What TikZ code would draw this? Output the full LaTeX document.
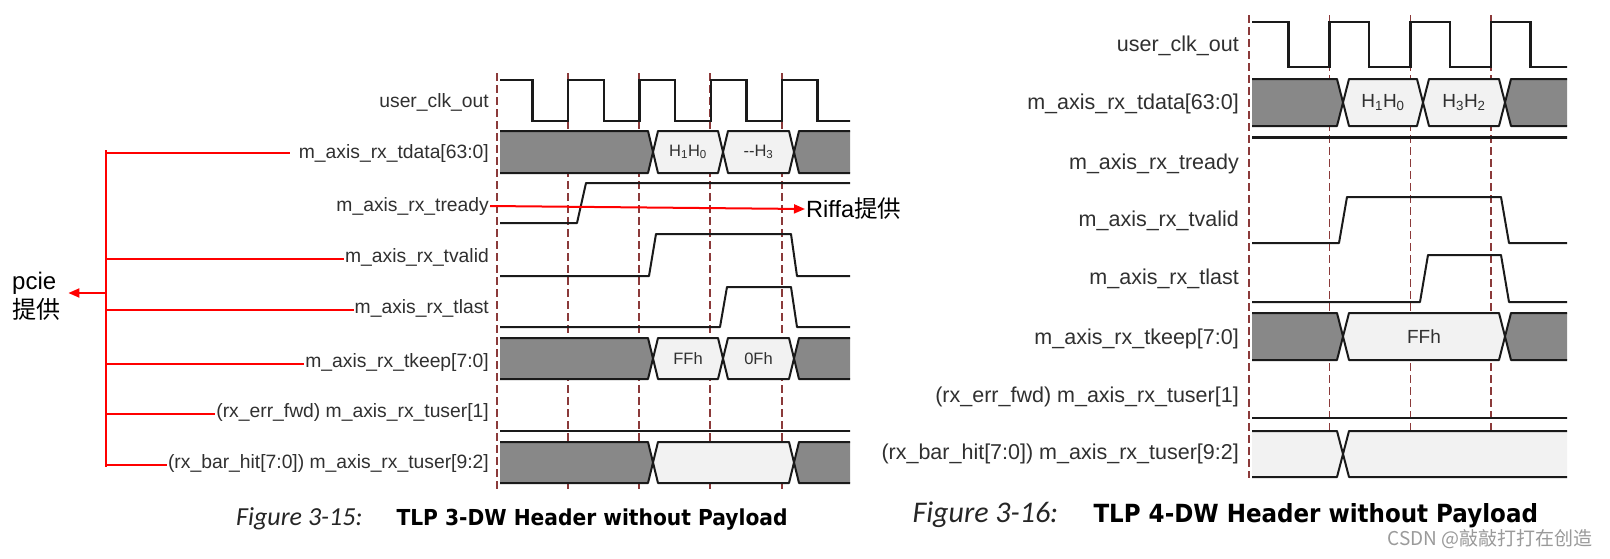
\documentclass[tikz,border=0pt]{standalone}
\usepackage{fontspec}
\setmainfont{Liberation Sans}
\newfontfamily\cjk{Noto Sans CJK SC}
\newfontfamily\capit{Carlito}
\newfontfamily\capbf{DejaVu Sans}[FakeStretch=0.92]
\usetikzlibrary{arrows.meta}
\definecolor{gridred}{HTML}{8B3A3A}
\definecolor{busgray}{HTML}{888888}
\definecolor{buslight}{HTML}{F2F2F2}
\definecolor{lblc}{HTML}{303030}
\definecolor{wmc}{HTML}{9A9A9A}
\definecolor{wavec}{HTML}{1A1A1A}
\tikzset{
  wave/.style={line width=2pt, draw=wavec, line join=round},
  clkwave/.style={line width=2.4pt, draw=wavec, line join=miter},
  gridline/.style={draw=gridred, line width=1.4pt, dash pattern=on 8pt off 4pt},
  redline/.style={draw=red, line width=2pt},
  redarrow/.style={draw=red, line width=2pt, -{Triangle[length=11pt,width=9pt]}},
}
% fill, xL, xR, top, bot, wL, wR, name, text
\newcommand\bseg[9]{%
  \pgfmathsetmacro\ymid{(#4+#5)/2}%
  \filldraw[fill=#1,wave] (#2,\ymid) -- (#2+#6,#4) -- (#3-#7,#4) -- (#3,\ymid) -- (#3-#7,#5) -- (#2+#6,#5) -- cycle;
  \node[boxtxt] (#8) at ({(#2+#3)/2},\ymid) {#9};
}
\begin{document}
\begin{tikzpicture}[x=1pt,y=-1pt]
\useasboundingbox (0,0) rectangle (1610,558);
\fill[white] (0,0) rectangle (1610,558);

%================ LEFT FIGURE ================
\foreach \x in {497,568,639,710,782} \draw[gridline] (\x,73) -- (\x,492);

\begin{scope}[boxtxt/.style={font=\fontsize{16.5}{19}\selectfont, text=lblc, inner sep=0pt}]
\clip (500,0) rectangle (850,558);
% clock
\draw[clkwave] (497,80) foreach \i in {0,...,4} {
  -- ({497+\i*71.25+35.6},80) -- ({497+\i*71.25+35.6},121)
  -- ({497+(\i+1)*71.25},121) -- ({497+(\i+1)*71.25},80) };
% tdata
\bseg{busgray}{488}{653}{131}{173}{0}{5}{dL0}{}
\bseg{buslight}{653}{723}{131}{173}{5}{5}{dL1}{H\textsubscript{1}H\textsubscript{0}}
\bseg{buslight}{723}{794}{131}{173}{5}{5}{dL2}{-{}-H\textsubscript{3}}
\bseg{busgray}{794}{862}{131}{173}{5}{0}{dL3}{}
% tready
\draw[wave] (488,223) -- (577,223) -- (586,183) -- (862,183);
% tvalid
\draw[wave] (488,276) -- (649,276) -- (656,234) -- (791,234) -- (797,276) -- (862,276);
% tlast
\draw[wave] (488,327) -- (720,327) -- (727,287) -- (791,287) -- (797,327) -- (862,327);
% tkeep
\bseg{busgray}{488}{653}{338}{379}{0}{5}{kL0}{}
\bseg{buslight}{653}{723}{338}{379}{5}{5}{kL1}{FFh}
\bseg{buslight}{723}{794}{338}{379}{5}{5}{kL2}{0Fh}
\bseg{busgray}{794}{862}{338}{379}{5}{0}{kL3}{}
% tuser[1]
\draw[wave,line width=2.4pt] (488,431) -- (862,431);
% tuser[9:2]
\bseg{busgray}{488}{653}{442}{483}{0}{5}{uL0}{}
\bseg{buslight}{653}{794}{442}{483}{5}{5}{uL1}{}
\bseg{busgray}{794}{862}{442}{483}{5}{0}{uL2}{}
\end{scope}

\begin{scope}[lbl/.style={anchor=east, font=\fontsize{19.3}{22}\selectfont, text=lblc, inner sep=1pt, text height=14pt, text depth=4pt}]
\node[lbl] (lL1) at (490,102) {user\_clk\_out};
\node[lbl] (lL2) at (490,153) {m\_axis\_rx\_tdata[63:0]};
\node[lbl] (lL3) at (490,206) {m\_axis\_rx\_tready};
\node[lbl] (lL4) at (490,257) {m\_axis\_rx\_tvalid};
\node[lbl] (lL5) at (490,308) {m\_axis\_rx\_tlast};
\node[lbl] (lL6) at (490,362) {m\_axis\_rx\_tkeep[7:0]};
\node[lbl] (lL7) at (490,412) {(rx\_err\_fwd) m\_axis\_rx\_tuser[1]};
\node[lbl] (lL8) at (490,463) {(rx\_bar\_hit[7:0]) m\_axis\_rx\_tuser[9:2]};
\end{scope}

% red annotations
\coordinate (bustop) at (106,150);
\coordinate (busbot) at (106,467);
\coordinate (busmid) at (106,293);
\draw[redline] (bustop) -- (busbot);
\draw[redline, shorten >=8pt] (lL2.west -| bustop) -- (lL2.west);
\foreach \n in {lL4,lL5,lL6,lL7,lL8} \draw[redline] ([yshift=-2pt]\n.west -| bustop) -- ([yshift=-2pt]\n.west);
\node[anchor=west, align=left, font=\fontsize{24}{29}\selectfont, inner sep=0pt] (pcie) at (12,296) {pcie\\{\cjk 提供}};
\draw[redarrow] (busmid) -- ([xshift=8pt]busmid -| pcie.east);
\node[anchor=west, font=\fontsize{23.5}{26}\selectfont, inner sep=1pt] (riffa) at (805,209) {Riffa{\cjk 提供}};
\draw[redarrow] (lL3.east) -- (riffa.west);

% caption left
\node[anchor=base east, font=\capit\itshape\fontsize{26}{30}\selectfont, text=black!85] (figL) at (366,525) {Figure 3-15:};
\node[anchor=base west, font=\capbf\bfseries\fontsize{22}{26}\selectfont] (capL) at (393,525) {TLP 3-DW Header without Payload};

%================ RIGHT FIGURE ================
\foreach \x in {1249,1329.7,1410.3,1491} \draw[gridline] (\x,15) -- (\x,478);

\begin{scope}[boxtxt/.style={font=\fontsize{19}{22}\selectfont, text=lblc, inner sep=0pt}]
\clip (1252,0) rectangle (1567,558);
\draw[clkwave] (1249,22) foreach \i in {0,...,3} {
  -- ({1249+\i*80.67+39.5},22) -- ({1249+\i*80.67+39.5},67)
  -- ({1249+(\i+1)*80.67},67) -- ({1249+(\i+1)*80.67},22) };
% tdata
\bseg{busgray}{1240}{1343}{79}{126}{0}{6}{dR0}{}
\bseg{buslight}{1343}{1423}{79}{126}{6}{6}{dR1}{H\textsubscript{1}H\textsubscript{0}}
\bseg{buslight}{1423}{1505}{79}{126}{6}{6}{dR2}{H\textsubscript{3}H\textsubscript{2}}
\bseg{busgray}{1505}{1580}{79}{126}{6}{0}{dR3}{}
% tready
\draw[wave,line width=3pt] (1240,137) -- (1580,137);
% tvalid
\draw[wave] (1240,243) -- (1339,243) -- (1347,197) -- (1501,197) -- (1509,243) -- (1580,243);
% tlast
\draw[wave] (1240,302) -- (1420,302) -- (1428,255) -- (1501,255) -- (1509,302) -- (1580,302);
% tkeep
\bseg{busgray}{1240}{1343}{313}{360}{0}{6}{kR0}{}
\bseg{buslight}{1343}{1505}{313}{360}{6}{6}{kR1}{FFh}
\bseg{busgray}{1505}{1580}{313}{360}{6}{0}{kR2}{}
% tuser[1]
\draw[wave,line width=2.6pt] (1240,418) -- (1580,418);
% tuser[9:2]
\bseg{buslight}{1240}{1343}{431}{477}{0}{6}{uR0}{}
\bseg{buslight}{1343}{1580}{431}{477}{6}{0}{uR1}{}
\end{scope}

\begin{scope}[lbl/.style={anchor=east, font=\fontsize{21.5}{24}\selectfont, text=lblc, inner sep=1pt, text height=16pt, text depth=4.5pt}]
\node[lbl] (lR1) at (1240,46) {user\_clk\_out};
\node[lbl] (lR2) at (1240,104) {m\_axis\_rx\_tdata[63:0]};
\node[lbl] (lR3) at (1240,164) {m\_axis\_rx\_tready};
\node[lbl] (lR4) at (1240,221) {m\_axis\_rx\_tvalid};
\node[lbl] (lR5) at (1240,279) {m\_axis\_rx\_tlast};
\node[lbl] (lR6) at (1240,339) {m\_axis\_rx\_tkeep[7:0]};
\node[lbl] (lR7) at (1240,397) {(rx\_err\_fwd) m\_axis\_rx\_tuser[1]};
\node[lbl] (lR8) at (1240,454) {(rx\_bar\_hit[7:0]) m\_axis\_rx\_tuser[9:2]};
\end{scope}

% caption right
\node[anchor=base west, font=\capit\itshape\fontsize{30}{33}\selectfont, text=black!85] (figR) at (909,522) {Figure 3-16:};
\node[anchor=base west, font=\capbf\bfseries\fontsize{25}{28}\selectfont] (capR) at (1090,522) {TLP 4-DW Header without Payload};

% watermark
\node[anchor=base east, font=\cjk\fontsize{19}{22}\selectfont, text=wmc, inner sep=0pt] (wm) at (1593,545) {CSDN @敲敲打打在创造};
\end{tikzpicture}
\end{document}
